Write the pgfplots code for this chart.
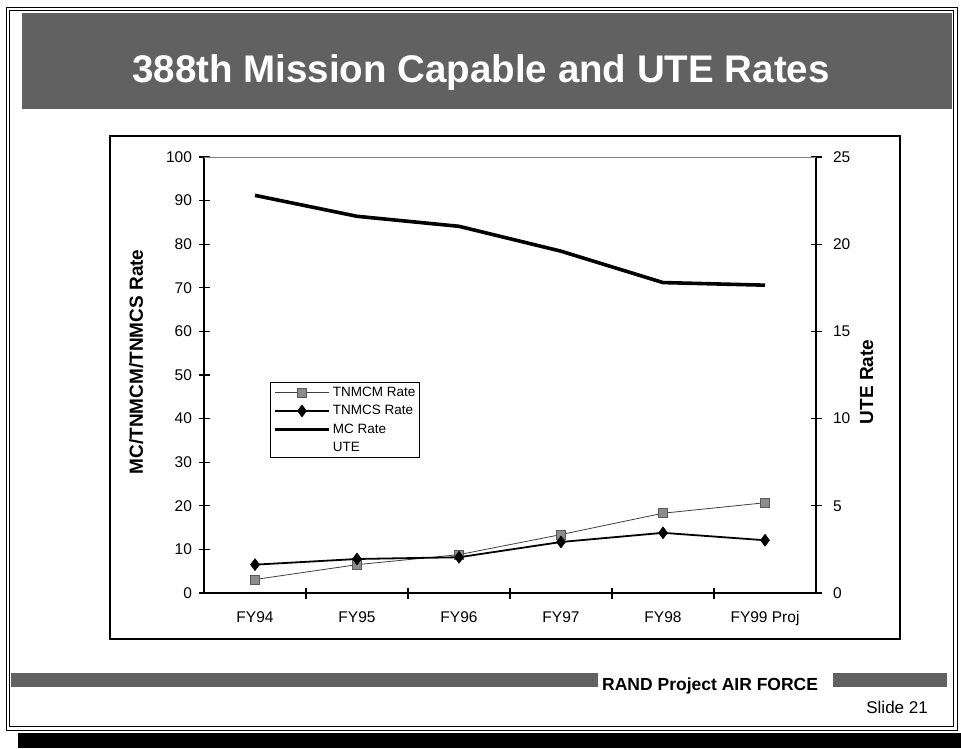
\documentclass[border=0pt]{standalone}
\usepackage{fontspec}
\setmainfont{Liberation Sans}
\usepackage{pgfplots}
\usepackage{pgfplotstable}
\pgfplotsset{compat=1.18}

\pgfplotstableread{
x mc tnmcm tnmcs
0 91.2 3.1 6.5
1 86.4 6.5 7.8
2 84.1 8.8 8.2
3 78.4 13.4 11.7
4 71.2 18.3 13.8
5 70.6 20.7 12.1
}\data

\begin{document}
\begin{tikzpicture}
\fill[white] (0pt,0pt) rectangle (961pt,748pt);
% outer double frame
\draw[line width=0.9pt] (6pt,18pt) rectangle (957pt,741pt);
\draw[line width=0.9pt] (9.5pt,21.5pt) rectangle (953.5pt,737.5pt);
% bottom black bar
\fill[black] (18pt,0pt) rectangle (961pt,15pt);
% title banner
\fill[black!62] (22pt,639pt) rectangle (952pt,735pt);
\node[font=\fontsize{38.5}{44}\selectfont\bfseries, text=white, anchor=base] at (481pt,665pt) {388th Mission Capable and UTE Rates};
% chart frame
\draw[line width=1.2pt] (110pt,109pt) rectangle (900pt,612pt);
% footer
\fill[black!62] (11pt,61pt) rectangle (598pt,75pt);
\fill[black!62] (833pt,61pt) rectangle (947pt,75pt);
\node[font=\fontsize{17.5}{20}\selectfont\bfseries, anchor=base west, inner sep=0pt] at (602pt,58pt) {RAND Project AIR FORCE};
\node[font=\fontsize{17}{20}\selectfont, anchor=base east, inner sep=0pt] at (928pt,35pt) {Slide 21};

% right axis
\begin{axis}[at={(204pt,155pt)}, anchor=south west, scale only axis,
  width=612pt, height=436pt,
  xmin=-0.5, xmax=5.5, ymin=0, ymax=25,
  axis y line*=right, axis x line=none,
  axis line style={line width=1.6pt, -},
  ytick={0,5,...,25},
  tick align=center, major tick length=11pt,
  tick style={line width=1.2pt, black},
  /pgf/number format/assume math mode=true,
  tick label style={font=\fontsize{15.5}{18}\selectfont},
  yticklabel style={xshift=8pt},
  ylabel={UTE Rate},
  ylabel style={font=\fontsize{19}{22}\selectfont\bfseries, at={(axis description cs:1.083,0.484)}, anchor=center},
]
\end{axis}

% left axis with data
\begin{axis}[at={(204pt,155pt)}, anchor=south west, scale only axis,
  width=612pt, height=436pt,
  xmin=-0.5, xmax=5.5, ymin=0, ymax=100,
  axis x line*=bottom, axis y line*=left,
  axis line style={line width=1.6pt, -},
  xtick={0.5,1.5,2.5,3.5,4.5}, xticklabels={},
  extra x ticks={0,1,2,3,4,5},
  extra x tick labels={FY94,FY95,FY96,FY97,FY98,FY99 Proj},
  extra x tick style={major tick length=0pt, xticklabel style={yshift=-15pt}},
  ytick={0,10,...,100},
  tick align=center, major tick length=11pt,
  tick style={line width=1.2pt, black},
  /pgf/number format/assume math mode=true,
  tick label style={font=\fontsize{15.5}{18}\selectfont},
  yticklabel style={xshift=-3pt},
  ylabel={MC/TNMCM/TNMCS Rate},
  ylabel style={font=\fontsize{19}{22}\selectfont\bfseries, at={(axis description cs:-0.111,0.53)}, anchor=center},
  legend style={at={(axis description cs:0.108,0.484)}, anchor=north west,
    draw=black, line width=1.2pt, fill=white,
    font=\fontsize{13.5}{16}\selectfont, inner sep=2.5pt, row sep=3.5pt},
  legend cell align=left,
  legend image code/.code={\draw[mark repeat=2,mark phase=2,#1] plot coordinates {(0pt,0pt) (27pt,0pt) (54pt,0pt)};},
]
\draw[black!50, line width=0.7pt] (rel axis cs:0,1) -- (rel axis cs:1,1);
\addplot[black!75, line width=0.8pt, mark=square*, mark size=4.5pt,
  mark options={fill=black!45, draw=black!65, line width=0.6pt}] table[x=x,y=tnmcm] {\data};
\addlegendentry{TNMCM Rate}
\addplot[black, line width=1.8pt, mark=diamond*, mark size=6pt,
  mark options={fill=black, line width=0.5pt}] table[x=x,y=tnmcs] {\data};
\addlegendentry{TNMCS Rate}
\addplot[black, line width=3.6pt, line join=round, no marks] table[x=x,y=mc] {\data};
\addlegendentry{MC Rate}
\addlegendimage{white, line width=0pt}
\addlegendentry{UTE}
\end{axis}
\end{tikzpicture}
\end{document}
